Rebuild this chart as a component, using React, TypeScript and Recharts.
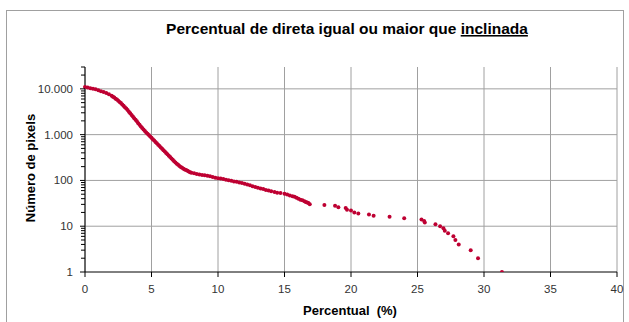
import React from 'react';
import { ScatterChart, Scatter, XAxis, YAxis, CartesianGrid } from 'recharts';

// Percentual (%) values of each point
const percentual = [
  0.0, 0.2, 0.4, 0.6, 0.8, 1.0, 1.2, 1.4, 1.6, 1.8,
  2.0, 2.1, 2.2, 2.3, 2.4, 2.5, 2.6, 2.7, 2.8, 2.9,
  3.0, 3.1, 3.2, 3.3, 3.4, 3.5, 3.6, 3.7, 3.8, 3.9,
  4.0, 4.1, 4.2, 4.3, 4.4, 4.5, 4.6, 4.7, 4.8, 4.9,
  5.0, 5.1, 5.2, 5.3, 5.4, 5.5, 5.6, 5.7, 5.8, 5.9,
  6.0, 6.1, 6.2, 6.3, 6.4, 6.5, 6.6, 6.7, 6.8, 6.9,
  7.0, 7.1, 7.2, 7.3, 7.4, 7.5, 7.6, 7.7, 7.8, 7.9,
  8.0, 8.2, 8.4, 8.6, 8.8, 9.0, 9.2, 9.4, 9.6, 9.8,
  10.0, 10.2, 10.4, 10.6, 10.8, 11.0, 11.2, 11.4, 11.6, 11.8,
  12.0, 12.2, 12.4, 12.6, 12.8, 13.0, 13.2, 13.4, 13.6, 13.8,
  14.0, 14.25, 14.45, 14.7, 15.0, 15.2, 15.4, 15.6, 15.75, 15.9,
  16.05, 16.2, 16.35, 16.5, 16.6, 16.7, 16.8, 16.9,
  18.0, 18.8, 19.05, 19.6, 19.7, 20.0, 20.25, 20.55, 21.35, 21.7,
  22.9, 24.0, 25.3, 25.5, 25.55, 26.35, 26.7, 26.95, 27.05, 27.3,
  27.7, 27.85, 28.1, 29.0, 29.55, 31.35,
];

// Número de pixels for each point
const pixels = [
  11000, 10700, 10350, 10100, 9770, 9330, 8910, 8510, 8130, 7590,
  7080, 6760, 6460, 6100, 5820, 5500, 5190, 4900, 4570, 4270,
  3980, 3720, 3430, 3160, 2920, 2690, 2480, 2290, 2110, 1950,
  1780, 1640, 1510, 1400, 1290, 1200, 1120, 1050, 977, 912,
  851, 794, 741, 692, 646, 603, 562, 525, 490, 457,
  427, 398, 372, 347, 324, 302, 282, 263, 245, 232,
  219, 207, 197, 188, 180, 174, 168, 162, 157, 151,
  148, 143, 138, 135, 132, 129, 126, 123, 119, 115,
  112, 110, 107, 104, 101, 98, 95, 93, 90, 88,
  85, 81, 78, 75, 72, 69, 67, 65, 62, 60,
  58, 56, 54, 53, 51, 49, 47, 45, 44, 42,
  40, 38, 37, 35, 34, 33, 32, 30,
  29, 28, 26, 25, 23, 22, 20, 19, 18, 17,
  16, 15, 14, 13, 12, 11, 10, 9, 8, 7,
  6, 5, 4, 3, 2, 1,
];

const xTicks = [0, 5, 10, 15, 20, 25, 30, 35, 40];
const yMajorTicks = [1, 10, 100, 1000, 10000];
const yMinorTicks = [
  2, 3, 4, 5, 6, 7, 8, 9,
  20, 30, 40, 50, 60, 70, 80, 90,
  200, 300, 400, 500, 600, 700, 800, 900,
  2000, 3000, 4000, 5000, 6000, 7000, 8000, 9000,
  20000, 30000,
];
const yGridValues = [10, 100, 1000, 10000];

const title = 'Percentual de direta igual ou maior que ';
const titleUnderlined = 'inclinada';
const yTitle = 'Número de pixels';
const xTitle = 'Percentual  (%)';

const data = percentual.map((x, i) => ({ x, y: pixels[i] }));
const allYTicks = [...yMajorTicks, ...yMinorTicks].sort((a, b) => a - b);

const FONT = '"Liberation Sans", Arial, Helvetica, sans-serif';
const TICK_SIZE = 5;
const TICK_MARGIN = 7;
const MARKER = '#BE0032';

const fmt = (v: number) => String(v).replace(/\B(?=(\d{3})+(?!\d))/g, '.');

function YTick(props: any) {
  const { x, y, payload } = props;
  const v = payload.value;
  const axisX = x + TICK_SIZE + TICK_MARGIN;
  const major = yMajorTicks.includes(v);
  return (
    <g>
      <line x1={axisX - (major ? 5 : 4)} x2={axisX} y1={y} y2={y} stroke="#000" strokeWidth={1} />
      {major && (
        <text x={x} y={y} dy="0.35em" textAnchor="end" fontSize={11.5} fill="#333" fontFamily={FONT}>
          {fmt(v)}
        </text>
      )}
    </g>
  );
}

function Dot(props: any) {
  const { cx, cy } = props;
  return <circle cx={cx} cy={cy} r={2} fill={MARKER} />;
}

export default function App() {
  return (
    <div style={{ position: 'absolute', left: 0, top: 0, width: 629, height: 322, background: '#fff' }}>
      <div
        style={{
          position: 'absolute',
          left: 6,
          top: 10,
          width: 618,
          height: 320,
          border: '1px solid #a0a0a0',
          boxSizing: 'border-box',
        }}
      />
      <div style={{ position: 'absolute', left: 0, top: 0 }}>
        <ScatterChart width={629} height={322} margin={{ top: 67, right: 12, bottom: 20, left: 25 }}>
          <CartesianGrid
            stroke="#a0a0a0"
            strokeWidth={1}
            horizontalValues={yGridValues}
            verticalValues={xTicks}
          />
          <XAxis
            type="number"
            dataKey="x"
            domain={[0, 40]}
            ticks={xTicks}
            height={30}
            tickSize={TICK_SIZE}
            tickMargin={8}
            axisLine={{ stroke: '#000' }}
            tickLine={{ stroke: '#000' }}
            tick={{ fontSize: 11.5, fill: '#333', fontFamily: FONT }}
            interval={0}
          />
          <YAxis
            type="number"
            dataKey="y"
            scale="log"
            domain={[1, 30000]}
            allowDataOverflow
            ticks={allYTicks}
            width={60}
            tickSize={TICK_SIZE}
            tickMargin={TICK_MARGIN}
            axisLine={{ stroke: '#000' }}
            tickLine={false}
            tick={<YTick />}
            interval={0}
          />
          <Scatter data={data} shape={<Dot />} isAnimationActive={false} />
        </ScatterChart>
      </div>
      <svg
        width={629}
        height={322}
        style={{ position: 'absolute', left: 0, top: 0, pointerEvents: 'none' }}
      >
        <text x={347} y={34} textAnchor="middle" fontWeight="bold" fontSize={15.5} fontFamily={FONT} fill="#000">
          {title}
          <tspan style={{ textDecoration: 'underline' }}>{titleUnderlined}</tspan>
        </text>
        <text
          transform="translate(35,168) rotate(-90)"
          textAnchor="middle"
          fontWeight="bold"
          fontSize={13}
          fontFamily={FONT}
          fill="#000"
        >
          {yTitle}
        </text>
        <text
          x={350}
          y={315}
          textAnchor="middle"
          fontWeight="bold"
          fontSize={13}
          fontFamily={FONT}
          fill="#000"
          style={{ whiteSpace: 'pre' }}
        >
          {xTitle}
        </text>
      </svg>
    </div>
  );
}
